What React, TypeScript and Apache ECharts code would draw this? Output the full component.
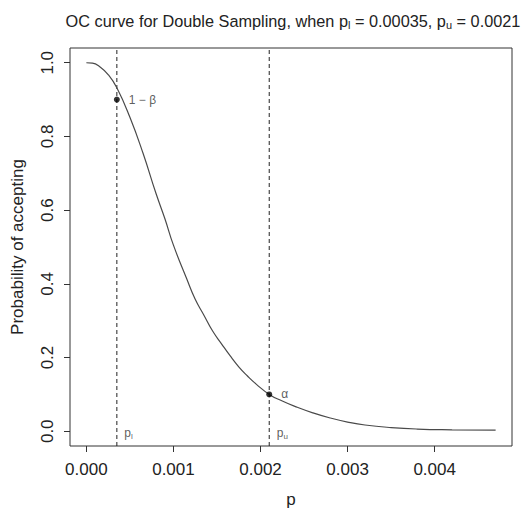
import React, { useEffect, useRef } from "react";
import * as echarts from "echarts";

const pValues = [0, 0.00007, 0.00015, 0.00025, 0.00035, 0.0005, 0.00065, 0.0008, 0.0009, 0.001, 0.00115, 0.00125, 0.00135, 0.00145, 0.00155, 0.00165, 0.00175, 0.00185, 0.00195, 0.0021, 0.00225, 0.0024, 0.0026, 0.0028, 0.003, 0.0032, 0.0035, 0.0038, 0.0042, 0.0047];
const probAccept = [1.0, 0.999, 0.99, 0.968, 0.932, 0.852, 0.755, 0.645, 0.578, 0.505, 0.415, 0.358, 0.315, 0.272, 0.238, 0.205, 0.175, 0.15, 0.128, 0.1, 0.082, 0.067, 0.05, 0.036, 0.025, 0.017, 0.01, 0.006, 0.004, 0.003];
const xTicks = [0, 0.001, 0.002, 0.003, 0.004];
const yTicks = [0, 0.2, 0.4, 0.6, 0.8, 1.0];
const pLower = 0.00035;
const pUpper = 0.0021;
const oneMinusBeta = 0.9;
const alphaValue = 0.1;
const xRange = [-0.000188, 0.004888];
const yRange = [-0.04, 1.04];

export default function App() {
  const ref = useRef<HTMLDivElement>(null);
  useEffect(() => {
    if (!ref.current) return;
    const chart = echarts.init(ref.current, null, { renderer: "svg" });
    const font = "'Liberation Sans', Arial, Helvetica, sans-serif";
    const textColor = "#222";
    const dashed = { color: "#222", type: [4, 3], width: 1 };
    chart.setOption({
      animation: false,
      backgroundColor: "#fff",
      textStyle: { fontFamily: font },
      title: {
        text: "OC curve for Double Sampling, when p{s|l}{n| = 0.00035, }p{s|u}{n| = 0.0021}",
        left: 288,
        top: 6,
        textAlign: "center",
        textStyle: {
          fontFamily: font,
          fontSize: 16.3,
          fontWeight: "normal",
          color: textColor,
          lineHeight: 19,
          rich: {
            n: { fontFamily: font, fontSize: 16.3, color: textColor, lineHeight: 19 },
            s: { fontFamily: font, fontSize: 11, color: textColor, lineHeight: 12, verticalAlign: "bottom" },
          },
        },
      },
      grid: {
        left: 70,
        right: 11,
        top: 48,
        bottom: 63,
        show: true,
        borderColor: "#333",
        borderWidth: 1,
        backgroundColor: "transparent",
        containLabel: false,
        outerBoundsMode: "none",
      },
      xAxis: {
        type: "value",
        min: xRange[0],
        max: xRange[1],
        name: "p",
        nameLocation: "middle",
        nameGap: 45,
        nameTextStyle: { fontFamily: font, fontSize: 17, color: textColor },
        axisLine: { show: false, onZero: false },
        splitLine: { show: false },
        axisTick: { show: true, customValues: xTicks, length: 6, lineStyle: { color: "#333" } },
        axisLabel: {
          customValues: xTicks,
          formatter: (v: number) => v.toFixed(3),
          fontFamily: font,
          fontSize: 17,
          color: textColor,
          margin: 15,
        },
      },
      yAxis: {
        type: "value",
        min: yRange[0],
        max: yRange[1],
        name: "Probability of accepting",
        nameLocation: "middle",
        nameGap: 44,
        nameTextStyle: { fontFamily: font, fontSize: 17, color: textColor },
        axisLine: { show: false, onZero: false },
        splitLine: { show: false },
        axisTick: { show: true, customValues: yTicks, length: 6, lineStyle: { color: "#333" } },
        axisLabel: {
          customValues: yTicks,
          formatter: (v: number) => v.toFixed(1),
          rotate: 90,
          fontFamily: font,
          fontSize: 17,
          color: textColor,
          margin: 14,
        },
      },
      series: [
        {
          type: "line",
          data: [[pLower, yRange[0]], [pLower, yRange[1]]],
          showSymbol: false,
          lineStyle: dashed,
          silent: true,
          z: 1,
        },
        {
          type: "line",
          data: [[pUpper, yRange[0]], [pUpper, yRange[1]]],
          showSymbol: false,
          lineStyle: dashed,
          silent: true,
          z: 1,
        },
        {
          type: "line",
          data: pValues.map((p, i) => [p, probAccept[i]]),
          showSymbol: false,
          smooth: 0.5,
          lineStyle: { color: "#4a4a4a", width: 1.2 },
          z: 2,
        },
        {
          type: "scatter",
          data: [
            { value: [pLower, oneMinusBeta], name: "1 \u2212 \u03b2" },
            { value: [pUpper, alphaValue], name: "\u03b1" },
          ],
          symbolSize: 6,
          itemStyle: { color: "#000" },
          label: {
            show: true,
            position: "right",
            distance: 9,
            formatter: (d: any) => d.name,
            fontFamily: font,
            fontSize: 12,
            color: "#333",
          },
          z: 3,
        },
        {
          type: "scatter",
          data: [
            { value: [pLower, 0], name: "l" },
            { value: [pUpper, 0], name: "u" },
          ],
          symbolSize: 1,
          itemStyle: { color: "rgba(0,0,0,0)" },
          label: {
            show: true,
            position: "right",
            distance: 7,
            offset: [0, 2],
            formatter: (d: any) => "p{s|" + d.name + "}",
            fontFamily: font,
            fontSize: 12,
            color: "#333",
            lineHeight: 14,
            rich: {
              s: { fontFamily: font, fontSize: 8, color: "#333", lineHeight: 9, verticalAlign: "bottom" },
            },
          },
          z: 3,
        },
      ],
    });
    return () => chart.dispose();
  }, []);
  return (
    <div
      ref={ref}
      style={{ position: "fixed", left: 0, top: 0, width: 523, height: 509, background: "#fff" }}
    />
  );
}
